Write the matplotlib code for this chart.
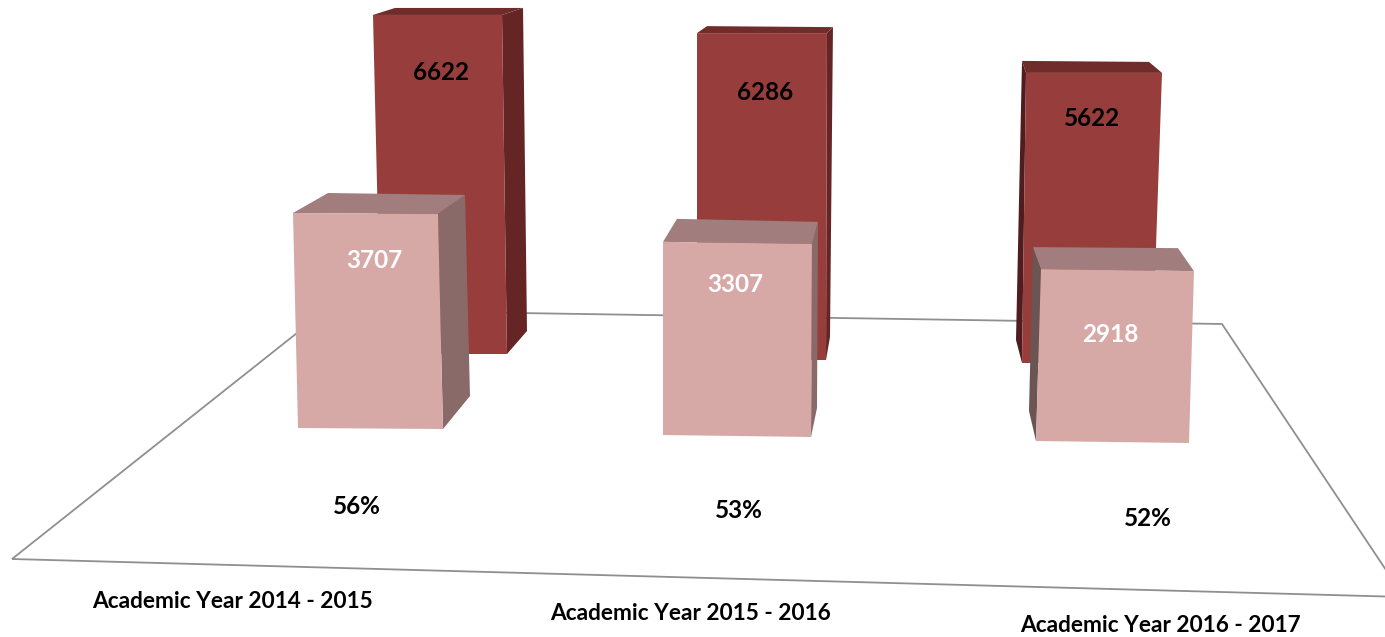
import matplotlib
matplotlib.use('Agg')
import matplotlib.pyplot as plt
from matplotlib.patches import Polygon

# --- DATA ---
years = ['Academic Year 2014 - 2015', 'Academic Year 2015 - 2016', 'Academic Year 2016 - 2017']
back_values = [6622, 6286, 5622]
front_values = [3707, 3307, 2918]
percents = ['56%', '53%', '52%']

# --- LAYOUT (pixels of the 1385x637 canvas, y down) ---
# Pixels per unit differ per bar because of the perspective of the 3D view
back_scale = [0.0512, 0.0520, 0.0516]
front_scale = [0.0580, 0.0584, 0.0589]

# front-left and front-right foot of each bar
back_feet = [((381, 354), (507, 354)), ((697, 360), (826, 360)), ((1022, 363), (1152, 363))]
front_feet = [((298, 428), (443, 429)), ((663, 435), (811, 437)), ((1036, 441), (1189, 443))]
# how far the left/right edges drift in x per pixel of height
back_lean = [(-0.0236, -0.0147), (0.0, 0.003), (0.0138, 0.0345)]
front_lean = [(-0.0233, -0.0233), (0.0, 0.005), (0.029, 0.029)]
# depth offset of the top face, left and right corner
back_top_depth = [((22, -7), (21, -7)), ((10, -7), (6, -6)), ((-4, -12), (-13, -11))]
front_top_depth = [((35, -20), (27, -19)), ((14, -23), (6, -22)), ((-8, -22), (-16, -23))]
# depth offset at the foot of the visible side face
back_foot_depth = [(20, -23), (4, -23), (-6, -23)]
front_foot_depth = [(27, -33), (6, -29), (-7, -30)]
# which side face shows: 1 right, 0 left
side_shown = [1, 1, 0]

back_label_xy = [(441, 72), (765, 92), (1092, 118)]
front_label_xy = [(374, 261), (735, 284), (1110, 335)]
percent_xy = [(357, 506), (739, 510), (1148, 518)]
year_xy = [(233, 602), (690, 614), (1160, 626)]

floor_corners = [(12, 559), (326, 310), (1222, 324), (1404, 597)]

BACK_COLORS = {'front': '#973d3c', 'top': '#6f2c2b', 'side': ['#4f1d1d', '#652525']}
FRONT_COLORS = {'front': '#d6a9a7', 'top': '#a17e7d', 'side': ['#6b5553', '#8a6a69']}


def draw_bar(ax, value, scale, feet, lean, top_depth, foot_depth, side, colors):
    h = value * scale
    tops = []
    for (x, y), drift in zip(feet, lean):
        tops.append((x + drift * h, y - h))

    back_tops = []
    for (x, y), (dx, dy) in zip(tops, top_depth):
        back_tops.append((x + dx, y + dy))

    # Side face first, then top, then front
    foot_back = (feet[side][0] + foot_depth[0], feet[side][1] + foot_depth[1])
    ax.add_patch(Polygon([back_tops[side], tops[side], feet[side], foot_back],
                         facecolor=colors['side'][side], edgecolor='none'))
    ax.add_patch(Polygon([tops[0], back_tops[0], back_tops[1], tops[1]],
                         facecolor=colors['top'], edgecolor='none'))
    ax.add_patch(Polygon([tops[0], tops[1], feet[1], feet[0]],
                         facecolor=colors['front'], edgecolor='none'))


def create_chart():
    plt.rcParams['font.family'] = ['Lato', 'DejaVu Sans']
    fig = plt.figure(figsize=(13.85, 6.37), dpi=100, facecolor='white')
    ax = fig.add_axes([0, 0, 1, 1])
    ax.set_xlim(0, 1385)
    ax.set_ylim(637, 0)
    ax.axis('off')

    # Floor of the 3D chart
    ax.add_patch(Polygon(floor_corners, closed=True, facecolor='white',
                         edgecolor='#8f8f8f', linewidth=1.3))

    for i in range(len(years)):
        draw_bar(ax, back_values[i], back_scale[i], back_feet[i], back_lean[i],
                 back_top_depth[i], back_foot_depth[i], side_shown[i], BACK_COLORS)

    for i in range(len(years)):
        draw_bar(ax, front_values[i], front_scale[i], front_feet[i], front_lean[i],
                 front_top_depth[i], front_foot_depth[i], side_shown[i], FRONT_COLORS)

    for i in range(len(years)):
        ax.text(*back_label_xy[i], str(back_values[i]), color='black', fontsize=17.5,
                fontweight='bold', ha='center', va='center')
        ax.text(*front_label_xy[i], str(front_values[i]), color='white', fontsize=17.5,
                fontweight='bold', ha='center', va='center')
        ax.text(*percent_xy[i], percents[i], color='black', fontsize=17.5,
                fontweight='bold', ha='center', va='center')
        ax.text(*year_xy[i], years[i], color='black', fontsize=16.3,
                fontweight='bold', ha='center', va='center')

    plt.savefig('out.png', dpi=100)


if __name__ == "__main__":
    create_chart()
